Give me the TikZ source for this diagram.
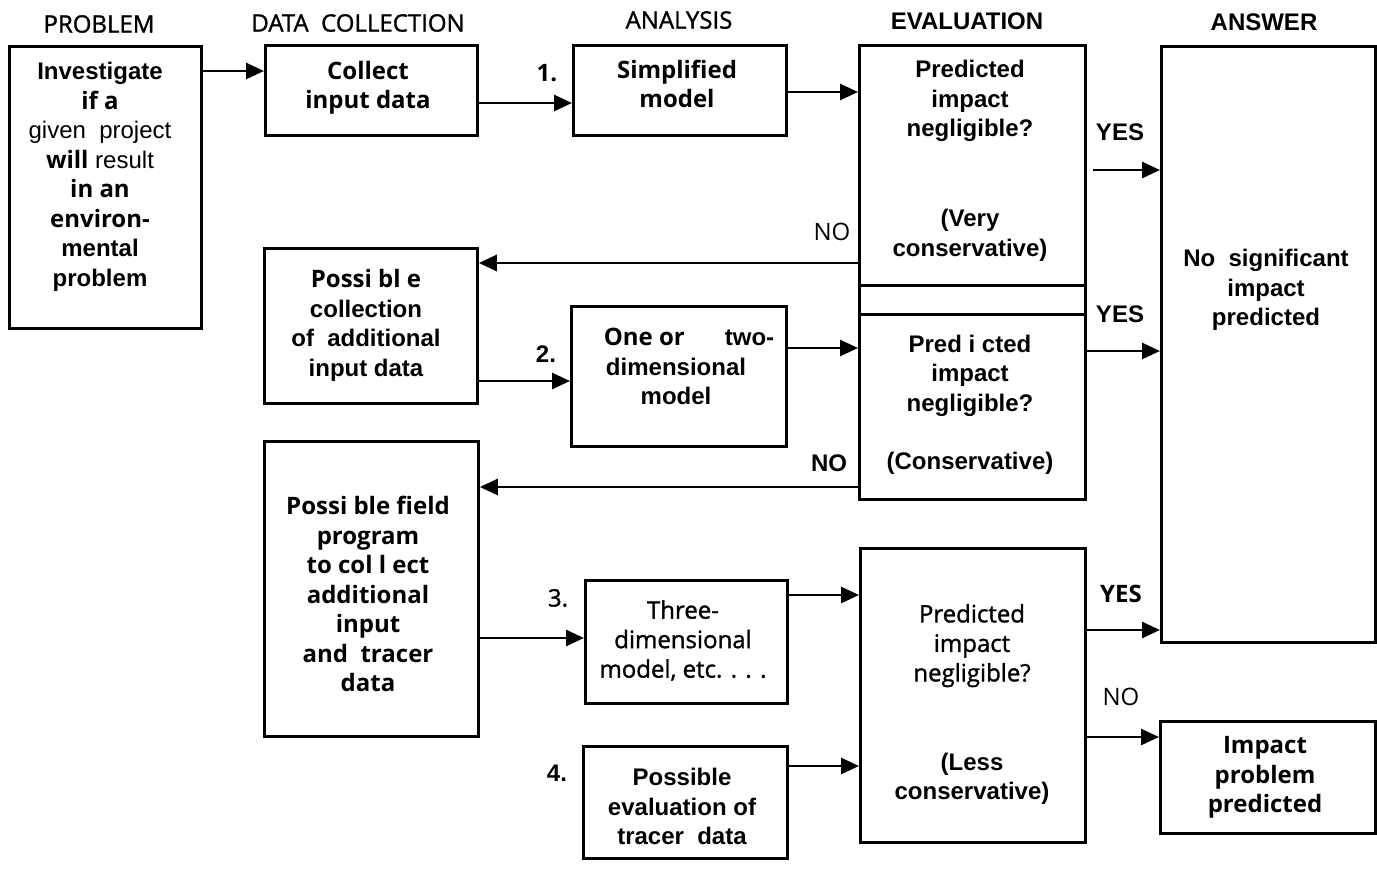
\documentclass[tikz,border=0pt]{standalone}
\usepackage{fontspec}
\setmainfont{Liberation Sans}
\newfontfamily\xarial{Liberation Sans}
\newfontfamily\xopen{Open Sans}
\newfontfamily\xopenmed{Open Sans}[FakeBold=1.3]
\usetikzlibrary{arrows.meta}
\newcommand\xAB{\xarial\bfseries}
\newcommand\xAR{\xarial\mdseries}
\newcommand\xFB{\xopen\bfseries}
\newcommand\xFR{\xopen\mdseries}
\newcommand\xFM{\xopenmed\mdseries}
\newcommand\xst{\rule[-0.25em]{0pt}{1em}}
\newcommand\xsz{\fontsize{24}{29.5}\selectfont}
\begin{document}
\begin{tikzpicture}[x=1pt,y=-1pt,
  box/.style={draw, line width=2.8pt, inner sep=0pt, anchor=north west},
  arr/.style={line width=2.8pt, -{Triangle[length=18pt,width=16pt]}},
  txt/.style={align=center, inner sep=0pt, font=\xsz},
  tAB/.style={txt, font=\xsz\xAB},
  tFB/.style={txt, font=\xsz\xFB},
  tFM/.style={txt, font=\xsz\xFM},
  lab/.style={inner sep=0pt, font=\fontsize{24}{29}\selectfont}]
\useasboundingbox (0,0) rectangle (1377,868);
\fill[white] (0,0) rectangle (1377,868);

% headers
\node[lab] (hprob) at (99,24) {\xFM PROBLEM};
\node[lab] (hdata) at (358,23) {\xFM DATA\ \ COLLECTION};
\node[lab] (hana) at (679,20) {\xFM ANALYSIS};
\node[lab] (heval) at (967,21) {\xAB EVALUATION};
\node[lab] (hans) at (1264,22) {\xAB ANSWER};

% boxes
\node[box, minimum width=192pt, minimum height=282pt] (prob) at (8,45) {};
\node[box, minimum width=212pt, minimum height=90pt] (collect) at (264,44) {};
\node[box, minimum width=213pt, minimum height=90pt] (simp) at (572,44) {};
\node[box, minimum width=226pt, minimum height=240pt] (eval1) at (858,44) {};
\node[box, minimum width=226pt, minimum height=29pt] (strip) at (858,284) {};
\node[box, minimum width=226pt, minimum height=185pt] (eval2) at (858,313) {};
\node[box, minimum width=214pt, minimum height=596pt] (answer) at (1160,45) {};
\node[box, minimum width=213pt, minimum height=155pt] (posscoll) at (263,247) {};
\node[box, minimum width=215pt, minimum height=140pt] (onetwo) at (570,305) {};
\node[box, minimum width=214pt, minimum height=295pt] (field) at (263,440) {};
\node[box, minimum width=202pt, minimum height=123pt] (three) at (584,579) {};
\node[box, minimum width=204pt, minimum height=112pt] (evaltr) at (582,745) {};
\node[box, minimum width=225pt, minimum height=294pt] (eval3) at (859,547) {};
\node[box, minimum width=215pt, minimum height=112pt] (impact) at (1159,720) {};

% box texts
\node[txt] (tprob) at (100,177) {\xst{\xAB Investigate}\\ {\xFB if a}\\ {\xAR given\ \ project}\\ {\xFB will} {\xAR result}\\ {\xFB in an}\\ {\xFB environ-}\\ {\xAB mental}\\ {\xAB problem}\xst};
\node[tFB] (tcollect) at (368,88) {\xst Collect\\ input data\xst};
\node[tFB] (tsimp) at (677,87) {\xst Simplified\\ model\xst};
\node[tAB] (teval1) at (970,161) {\xst Predicted\\ impact\\ negligible?\\[60.5pt] (Very\\ conservative)\xst};
\node[tAB] (teval2) at (970,405) {\xst Pred i cted\\ impact\\ negligible?\\[29pt] (Conservative)\xst};
\node[tAB] (tanswer) at (1266,290) {\xst No\ \ significant\\ impact\\ predicted\xst};
\node[tAB] (tposscoll) at (366,326) {\xst{\xFB Possi bl e}\\ collection\\ of\ \ additional\\ input data\xst};
\node[tAB] (tonetwo) at (676,369) {\xst\hspace*{26pt}{\xFB One or}\hspace{40pt}two-\\ dimensional\\ model\xst};
\node[tFB] (tfield) at (368,597) {\xst Possi ble field\\ program\\ to col l ect\\ additional\\ input\\ and\ \ tracer\\ data\xst};
\node[tFM] (tthree) at (683,642) {\xst Three-\\ dimensional\\ model, etc. . . .\xst};
\node[tAB] (tevaltr) at (682,809) {\xst Possible\\ evaluation of\\ tracer\ \ data\xst};
\node[tAB] (teval3) at (972,705) {\xst{\xFM Predicted}\\ {\xFM impact}\\ {\xFM negligible?}\\[59.5pt] (Less\\ conservative)\xst};
\node[tFB] (timpact) at (1265,777) {\xst Impact\\ problem\\ predicted\xst};

% labels
\node[lab] (n1) at (547,73) {\xFB 1.};
\node[lab] (n2) at (546,354) {\xAB 2.};
\node[lab] (n3) at (558,598) {\xFM 3.};
\node[lab] (n4) at (557,773) {\xAB 4.};
\node[lab] (yes1) at (1120,132) {\xAB YES};
\node[lab] (yes2) at (1120,314) {\xAB YES};
\node[lab] (yes3) at (1121,594) {\xFB YES};
\node[lab] (no1) at (832,232) {\xFR NO};
\node[lab] (no2) at (829,463) {\xAB NO};
\node[lab] (no3) at (1121,697) {\xFR NO};

% levels
\coordinate (l1) at (0,71);
\coordinate (l2) at (0,103);
\coordinate (l3) at (0,92);
\coordinate (ys1) at (1093,170);
\coordinate (l5) at (0,263);
\coordinate (l6) at (0,381);
\coordinate (l7) at (0,348);
\coordinate (l8) at (0,351);
\coordinate (l9) at (0,487);
\coordinate (l10) at (0,638);
\coordinate (l11) at (0,595);
\coordinate (l12) at (0,766);
\coordinate (l13) at (0,630);
\coordinate (l14) at (0,737);

% connectors
\draw[arr] (prob.east |- l1) -- (collect.west |- l1);
\draw[arr] (collect.east |- l2) -- (simp.west |- l2);
\draw[arr] (simp.east |- l3) -- (eval1.west |- l3);
\draw[arr] (ys1) -- (answer.west |- ys1);
\draw[arr] (eval1.west |- l5) -- (posscoll.east |- l5);
\draw[arr] (posscoll.east |- l6) -- (onetwo.west |- l6);
\draw[arr] (onetwo.east |- l7) -- (eval2.west |- l7);
\draw[arr] (eval2.east |- l8) -- (answer.west |- l8);
\draw[arr] (eval2.west |- l9) -- (field.east |- l9);
\draw[arr] (field.east |- l10) -- (three.west |- l10);
\draw[arr] (three.east |- l11) -- (eval3.west |- l11);
\draw[arr] (evaltr.east |- l12) -- (eval3.west |- l12);
\draw[arr] (eval3.east |- l13) -- (answer.west |- l13);
\draw[arr] (eval3.east |- l14) -- (impact.west |- l14);
\end{tikzpicture}
\end{document}
